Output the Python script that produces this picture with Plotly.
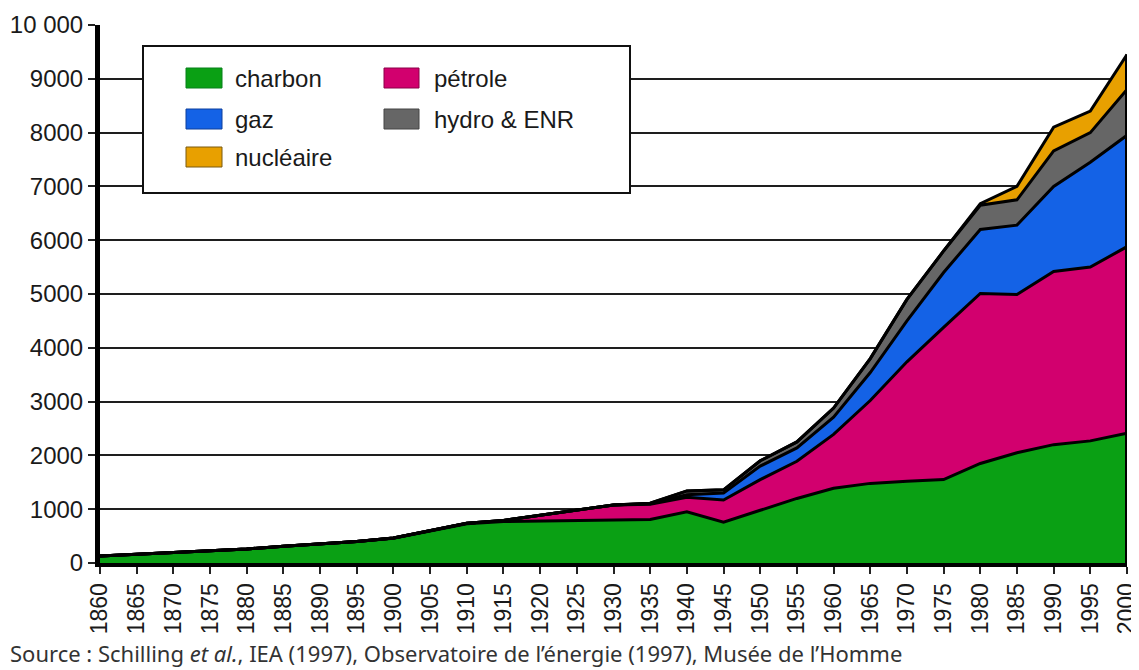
import plotly.graph_objects as go

# ---------------- data (Mtep, world primary energy) ----------------
years = list(range(1860, 2001, 5))

charbon = [130, 160, 190, 220, 260, 310, 350, 400, 460, 600, 730, 770, 780, 780, 790,
           810, 950, 760, 980, 1200, 1390, 1480, 1520, 1550, 1850, 2050, 2200, 2270, 2410]
petrole = [0, 0, 0, 0, 0, 0, 0, 0, 5, 5, 10, 20, 110, 210, 290,
           280, 270, 410, 570, 690, 1000, 1540, 2220, 2830, 3160, 2940, 3220, 3230, 3470]
gaz = [0, 0, 0, 0, 0, 0, 0, 0, 0, 0, 0, 0, 0, 0, 0,
       10, 50, 130, 250, 250, 320, 520, 760, 1020, 1190, 1290, 1580, 1950, 2070]
hydro = [0, 0, 0, 0, 0, 0, 0, 0, 0, 0, 0, 0, 0, 0, 0,
         10, 70, 60, 100, 110, 170, 260, 400, 400, 450, 470, 660, 550, 850]
nucleaire = [0, 0, 0, 0, 0, 0, 0, 0, 0, 0, 0, 0, 0, 0, 0,
             0, 0, 0, 0, 0, 0, 0, 0, 0, 30, 250, 440, 400, 650]

series_names = ["charbon", "pétrole", "gaz", "hydro & ENR", "nucléaire"]
series_values = [charbon, petrole, gaz, hydro, nucleaire]
series_colors = ["#0aa014", "#d2006e", "#1462e6", "#666666", "#e8a000"]
swatch_borders = ["#07801a", "#8a0048", "#0c3f9c", "#444444", "#7a5a10"]

y_tickvals = list(range(0, 10001, 1000))
y_ticktext = ["0", "1000", "2000", "3000", "4000", "5000", "6000", "7000", "8000", "9000", "10 000"]
x_tickvals = list(range(1860, 2001, 5))
x_ticktext = [str(v) for v in x_tickvals]

source_text = ("Source : Schilling <i>et al.</i>, IEA (1997), Observatoire de l’énergie (1997), "
               "Musée de l’Homme")

# ---------------- figure geometry ----------------
# the page body adds an 8 px margin, so the figure is designed 8 px smaller
OFF = 8
W, H = 1139 - OFF, 670 - OFF
ML, MR, MT, MB = 100 - OFF, 12, 25 - OFF, 107
PW, PH = W - ML - MR, H - MT - MB


def px(x):
    """window pixel x -> paper coordinate"""
    return (x - OFF - ML) / PW


def py(y):
    """window pixel y -> paper coordinate"""
    return (H - MB - (y - OFF)) / PH


FONT = "Liberation Sans, Arial, Helvetica, sans-serif"

fig = go.Figure()

for name, vals, col in zip(series_names, series_values, series_colors):
    fig.add_trace(go.Scatter(
        x=years, y=vals, name=name, mode="lines", stackgroup="one",
        line=dict(color="#000000", width=3), fillcolor=col, showlegend=False,
    ))

# right-hand closing edge of the stacked area (derived from data)
total_last = sum(v[-1] for v in series_values)
fig.add_trace(go.Scatter(x=[years[-1], years[-1]], y=[0, total_last], mode="lines",
                         line=dict(color="#000000", width=4), showlegend=False,
                         hoverinfo="skip"))

shapes = []
annotations = []

# top grey rule
shapes.append(dict(type="line", xref="paper", yref="paper", x0=px(107), x1=px(1145),
                   y0=py(5), y1=py(5), line=dict(color="#7a7a7a", width=2)))

# legend box
shapes.append(dict(type="rect", xref="paper", yref="paper", x0=px(143), x1=px(630),
                   y0=py(193), y1=py(46), fillcolor="#ffffff",
                   line=dict(color="#111111", width=2), layer="above"))

legend_layout = {  # name -> (column, row)
    "charbon": (0, 0), "gaz": (0, 1), "nucléaire": (0, 2),
    "pétrole": (1, 0), "hydro & ENR": (1, 1),
}
col_sw_x = [(186, 222), (384, 419)]
col_tx_x = [233, 432]
row_y = [78, 119, 157]
for name, col, bcol in zip(series_names, series_colors, swatch_borders):
    c, r = legend_layout[name]
    x0, x1 = col_sw_x[c]
    yc = row_y[r]
    shapes.append(dict(type="rect", xref="paper", yref="paper", x0=px(x0), x1=px(x1),
                       y0=py(yc + 10), y1=py(yc - 10), fillcolor=col,
                       line=dict(color=bcol, width=1), layer="above"))
    annotations.append(dict(xref="paper", yref="paper", x=px(col_tx_x[c]), y=py(yc),
                            xanchor="left", yanchor="middle", text=name, showarrow=False,
                            font=dict(family=FONT, size=24, color="#1a1a1a")))

annotations.append(dict(xref="paper", yref="paper", x=px(8), y=py(653),
                        xanchor="left", yanchor="middle", text=source_text,
                        showarrow=False,
                        font=dict(family="Noto Sans, Open Sans, sans-serif", size=22,
                                  color="#333333")))

fig.update_layout(
    width=W, height=H,
    margin=dict(l=ML, r=MR, t=MT, b=MB, autoexpand=False),
    paper_bgcolor="#ffffff", plot_bgcolor="#ffffff",
    shapes=shapes, annotations=annotations,
    showlegend=False,
    font=dict(family=FONT, size=24, color="#1a1a1a"),
)

fig.update_xaxes(
    range=[1860, 2000], tickmode="array", tickvals=x_tickvals, ticktext=x_ticktext,
    tickangle=-90, ticks="outside", ticklen=7, tickwidth=2, tickcolor="#222222",
    showline=True, linecolor="#000000", linewidth=4, showgrid=False, zeroline=False,
    ticklabeloverflow="allow", automargin=False,
    tickfont=dict(family=FONT, size=23, color="#1a1a1a"),
)
fig.update_yaxes(
    range=[0, 10000], tickmode="array", tickvals=y_tickvals, ticktext=y_ticktext,
    ticks="outside", ticklen=7, tickwidth=2, tickcolor="#222222",
    showline=True, linecolor="#000000", linewidth=5,
    showgrid=True, gridcolor="#1e1e1e", gridwidth=2, zeroline=False,
    ticklabeloverflow="allow", automargin=False,
    tickfont=dict(family=FONT, size=24, color="#1a1a1a"),
)

fig.write_html("out.html")
